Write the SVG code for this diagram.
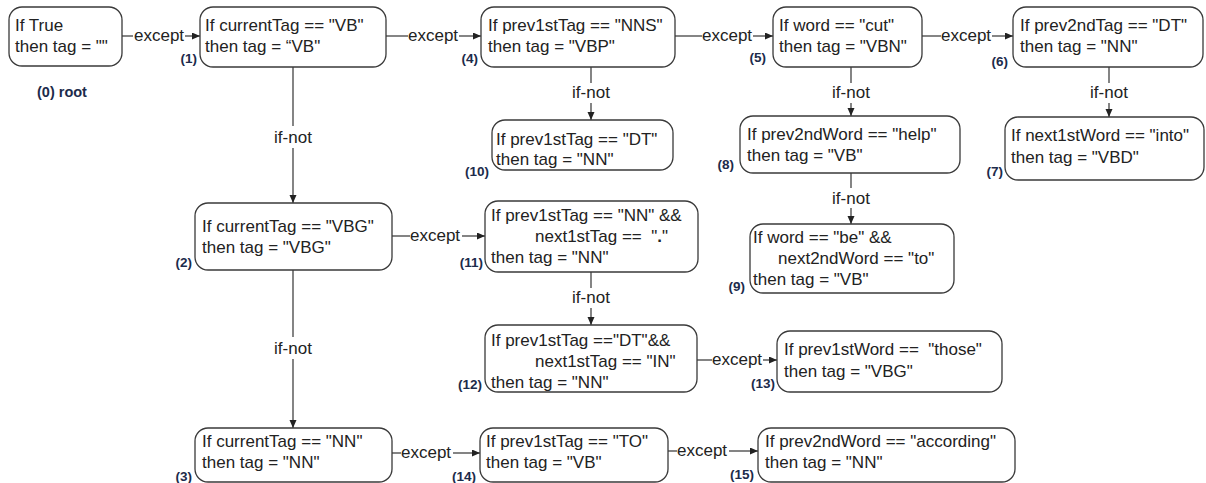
<svg xmlns="http://www.w3.org/2000/svg" width="1206" height="483" viewBox="0 0 1206 483">
<style>
.box{fill:#fff;stroke:#3a3a3a;stroke-width:1.3}
.t{font-family:"Liberation Sans",Arial,sans-serif;font-size:17px;fill:#222}
.n{font-family:"Liberation Sans",Arial,sans-serif;font-size:13.5px;font-weight:bold;fill:#1c2b4b;text-anchor:end}
.e{font-family:"Liberation Sans",Arial,sans-serif;font-size:17px;fill:#222}
.c{text-anchor:middle}
.ln{stroke:#333;stroke-width:1.2;fill:none}
</style>
<defs>
<marker id="ah" markerWidth="9" markerHeight="8" refX="8" refY="3.5" orient="auto" markerUnits="userSpaceOnUse">
<path d="M0,0 L8,3.5 L0,7 z" fill="#222"/>
</marker>
</defs>
<rect width="1206" height="483" fill="#fff"/>

<g id="edges">
<line class="ln" x1="122" y1="36" x2="133" y2="36"/><text class="e" x="134" y="41">except</text><line class="ln" x1="185" y1="36" x2="200" y2="36" marker-end="url(#ah)"/>
<line class="ln" x1="386" y1="36" x2="408" y2="36"/><text class="e" x="408" y="41">except</text><line class="ln" x1="459" y1="36" x2="481" y2="36" marker-end="url(#ah)"/>
<line class="ln" x1="675" y1="36" x2="702" y2="36"/><text class="e" x="702" y="41">except</text><line class="ln" x1="753" y1="36" x2="773" y2="36" marker-end="url(#ah)"/>
<line class="ln" x1="922" y1="36" x2="941" y2="36"/><text class="e" x="941" y="41">except</text><line class="ln" x1="992" y1="36" x2="1013" y2="36" marker-end="url(#ah)"/>
<line class="ln" x1="392" y1="236" x2="410" y2="236"/><text class="e" x="410" y="241">except</text><line class="ln" x1="462" y1="236" x2="485" y2="236" marker-end="url(#ah)"/>
<line class="ln" x1="697" y1="360" x2="712" y2="360"/><text class="e" x="712" y="365">except</text><line class="ln" x1="763" y1="360" x2="777" y2="360" marker-end="url(#ah)"/>
<line class="ln" x1="392" y1="453" x2="401" y2="453"/><text class="e" x="401" y="458">except</text><line class="ln" x1="453" y1="453" x2="480" y2="453" marker-end="url(#ah)"/>
<line class="ln" x1="668" y1="451" x2="677" y2="451"/><text class="e" x="677" y="456">except</text><line class="ln" x1="729" y1="451" x2="758" y2="451" marker-end="url(#ah)"/>
<line class="ln" x1="293" y1="67" x2="293" y2="126"/><text class="e c" x="293" y="143">if-not</text><line class="ln" x1="293" y1="148" x2="293" y2="203" marker-end="url(#ah)"/>
<line class="ln" x1="293" y1="270" x2="293" y2="337"/><text class="e c" x="293" y="354">if-not</text><line class="ln" x1="293" y1="359" x2="293" y2="428" marker-end="url(#ah)"/>
<line class="ln" x1="591" y1="67" x2="591" y2="83"/><text class="e c" x="591" y="98">if-not</text><line class="ln" x1="591" y1="103" x2="591" y2="120" marker-end="url(#ah)"/>
<line class="ln" x1="851" y1="67" x2="851" y2="83"/><text class="e c" x="851" y="98">if-not</text><line class="ln" x1="851" y1="103" x2="851" y2="116" marker-end="url(#ah)"/>
<line class="ln" x1="1109" y1="67" x2="1109" y2="83"/><text class="e c" x="1109" y="98">if-not</text><line class="ln" x1="1109" y1="103" x2="1109" y2="117" marker-end="url(#ah)"/>
<line class="ln" x1="851" y1="173" x2="851" y2="188"/><text class="e c" x="851" y="204">if-not</text><line class="ln" x1="851" y1="208" x2="851" y2="224" marker-end="url(#ah)"/>
<line class="ln" x1="591" y1="272" x2="591" y2="288"/><text class="e c" x="591" y="303">if-not</text><line class="ln" x1="591" y1="308" x2="591" y2="325" marker-end="url(#ah)"/>
</g>

<g id="node0">
<rect class="box" x="9" y="7" width="113" height="59" rx="13"/>
<text class="t" x="15" y="31">If True</text>
<text class="t" x="15" y="52">then tag = ""</text>
<text class="n" x="37" y="97" style="text-anchor:start;font-size:14.5px">(0) root</text>
</g>
<g id="node1">
<rect class="box" x="200" y="7" width="186" height="60" rx="13"/>
<text class="t" x="205" y="31">If currentTag == "VB"</text>
<text class="t" x="205" y="52">then tag = “VB"</text>
<text class="n" x="197" y="63">(1)</text>
</g>
<g id="node4">
<rect class="box" x="481" y="7" width="194" height="60" rx="13"/>
<text class="t" x="488" y="31">If prev1stTag == "NNS"</text>
<text class="t" x="488" y="52">then tag = "VBP"</text>
<text class="n" x="478" y="63">(4)</text>
</g>
<g id="node5">
<rect class="box" x="773" y="7" width="149" height="60" rx="13"/>
<text class="t" x="779" y="31">If word == "cut"</text>
<text class="t" x="779" y="52">then tag = "VBN"</text>
<text class="n" x="766" y="62">(5)</text>
</g>
<g id="node6">
<rect class="box" x="1013" y="7" width="190" height="60" rx="13"/>
<text class="t" x="1020" y="31">If prev2ndTag == "DT"</text>
<text class="t" x="1020" y="52">then tag = "NN"</text>
<text class="n" x="1008" y="66">(6)</text>
</g>
<g id="node7">
<rect class="box" x="1005" y="117" width="199" height="63" rx="13"/>
<text class="t" x="1011" y="141">If next1stWord == "into"</text>
<text class="t" x="1011" y="163">then tag = "VBD"</text>
<text class="n" x="1003" y="176">(7)</text>
</g>
<g id="node10">
<rect class="box" x="492" y="120" width="181" height="50" rx="13"/>
<text class="t" x="496" y="145">If prev1stTag == "DT"</text>
<text class="t" x="496" y="165">then tag = "NN"</text>
<text class="n" x="489" y="176">(10)</text>
</g>
<g id="node8">
<rect class="box" x="740" y="116" width="220" height="57" rx="13"/>
<text class="t" x="747" y="140">If prev2ndWord == "help"</text>
<text class="t" x="747" y="161">then tag = "VB"</text>
<text class="n" x="734" y="169">(8)</text>
</g>
<g id="node9">
<rect class="box" x="750" y="224" width="204" height="69" rx="13"/>
<text class="t" x="753" y="243">If word == "be" &amp;&amp;</text>
<text class="t" x="778" y="264">next2ndWord == "to"</text>
<text class="t" x="753" y="285">then tag = "VB"</text>
<text class="n" x="745" y="291">(9)</text>
</g>
<g id="node2">
<rect class="box" x="195" y="203" width="197" height="67" rx="13"/>
<text class="t" x="202" y="232">If currentTag == "VBG"</text>
<text class="t" x="202" y="253">then tag = "VBG"</text>
<text class="n" x="192" y="267">(2)</text>
</g>
<g id="node11">
<rect class="box" x="485" y="201" width="213" height="71" rx="13"/>
<text class="t" x="491" y="221">If prev1stTag == "NN" &amp;&amp;</text>
<text class="t" x="535" y="242" xml:space="preserve">next1stTag ==  "<tspan font-weight="bold">.</tspan>"</text>
<text class="t" x="491" y="263">then tag = "NN"</text>
<text class="n" x="483" y="267">(11)</text>
</g>
<g id="node12">
<rect class="box" x="485" y="325" width="212" height="67" rx="13"/>
<text class="t" x="491" y="346">If prev1stTag =="DT"&amp;&amp;</text>
<text class="t" x="535" y="367">next1stTag == "IN"</text>
<text class="t" x="491" y="388">then tag = "NN"</text>
<text class="n" x="482" y="389">(12)</text>
</g>
<g id="node13">
<rect class="box" x="777" y="331" width="225" height="61" rx="13"/>
<text class="t" x="784" y="355" xml:space="preserve">If prev1stWord ==  "those"</text>
<text class="t" x="784" y="377">then tag = "VBG"</text>
<text class="n" x="775" y="388">(13)</text>
</g>
<g id="node3">
<rect class="box" x="195" y="428" width="197" height="54" rx="13"/>
<text class="t" x="202" y="447">If currentTag == "NN"</text>
<text class="t" x="202" y="468">then tag = "NN"</text>
<text class="n" x="192" y="481">(3)</text>
</g>
<g id="node14">
<rect class="box" x="480" y="428" width="188" height="54" rx="13"/>
<text class="t" x="486" y="447">If prev1stTag == "TO"</text>
<text class="t" x="486" y="468">then tag = "VB"</text>
<text class="n" x="476" y="481">(14)</text>
</g>
<g id="node15">
<rect class="box" x="758" y="428" width="257" height="54" rx="13"/>
<text class="t" x="765" y="447">If prev2ndWord == "according"</text>
<text class="t" x="765" y="468">then tag = "NN"</text>
<text class="n" x="754" y="479">(15)</text>
</g>
</svg>
